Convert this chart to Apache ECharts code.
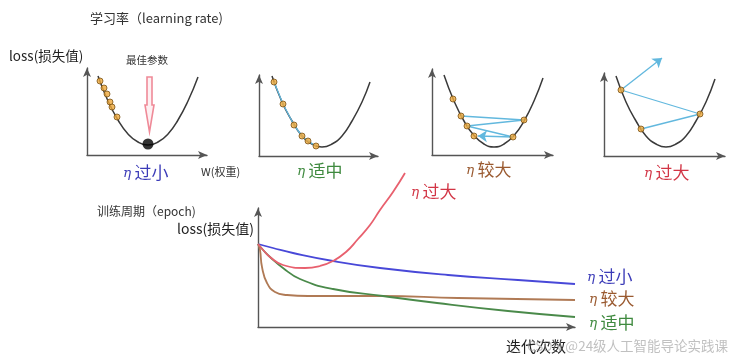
<!DOCTYPE html>
<html><head><meta charset="utf-8">
<script src="https://cdn.jsdelivr.net/npm/echarts@6/dist/echarts.min.js"></script>
<style>html,body{margin:0;padding:0;background:#fff}#c{width:737px;height:362px}</style>
</head><body><div id="c"></div>
<script>
// ---------- data (axis units) ----------
// panel 1: learning rate too small
const curveSmall = [[11,79],[21,54],[31,35],[41,21],[51,13],[61,10],[71,13],[81,21],[91,35],[101,54],[111,78]];
const stepsSmall = [[13,74],[17,67],[20,61],[23,53],[25,48],[30,38]];
const bestPoint = [[61,11]];
const bestArrow = [[60,78],[65,78],[65,50],[67,50],[62.5,23],[58,50],[60,50]];
// panel 2: good learning rate
const curveGood = [[13,80],[23,54],[33,35],[43,20],[53,12],[63,9],[73,12],[83,20],[93,35],[103,54],[111,74]];
const stepsGood = [[15,74],[24,52],[35,31],[43,20],[49,15],[57,10]];
// panel 3: large learning rate
const curveLarge = [[12,80],[22,54],[32,34],[42,19.5],[52,11],[62,8],[72,11],[82,19.5],[92,34],[102,54],[111,77]];
const stepsLarge = [[21,56],[29,39],[35,29],[42,19],[92,35],[81,18]];
const pathLarge = [[29,39],[92,35],[35,29],[81,18],[46,19]];
// panel 4: too large learning rate
const curveTooLarge = [[12,80],[22,54],[32,35],[42,20],[52,12],[62,9],[72,12],[82,20],[92,35],[102,54],[111,77]];
const stepsTooLarge = [[17,66],[96,42],[37,27]];
const pathTooLarge = [[37,27],[96,42],[17,66],[58,98]];
// bottom: loss vs epochs
const lossSmall = [[0,83],[15,79],[35,74],[75,66],[122,59],[190,52],[260,47],[317,43]];
const lossGood = [[0,83],[6,76],[12,70],[25,59],[42,48],[75,38],[125,31],[179,24],[250,16],[317,10]];
const lossLarge = [[0,83],[2,77],[4,60],[9,44],[17,35],[29,32],[50,31],[122,31],[200,29],[317,27]];
const lossTooLarge = [[0,83],[6,76],[12,70],[25,62],[47,59],[62,61],[75,66],[88,75],[100,88],[112,102],[122,117],[135,135],[147,154]];
// texts
const etaWords = ['过小','适中','较大','过大'];

const FONT = '"Noto Sans CJK SC", sans-serif';
const C = {small:'#3c3cb8', good:'#3f8a3f', large:'#9a5a30', too:'#d23545'};
const LINE = {small:'#4848d8', good:'#4a8a4a', large:'#b07a55', too:'#e8606e'};
const stepBlue = '#62b8de';

const grids = [
  {left:87, top:68, width:120, height:87},
  {left:259, top:75, width:119, height:81},
  {left:432, top:69, width:121, height:86},
  {left:604, top:73, width:121, height:83},
  {left:258, top:208, width:317, height:119}
];
const axisLine = {show:true, symbol:['none','arrow'], symbolSize:[6,9], lineStyle:{color:'#555', width:1.4}};
const xAxis = grids.map((g,i)=>({type:'value', gridIndex:i, min:0, max:g.width, axisLine, axisTick:{show:false}, axisLabel:{show:false}, splitLine:{show:false}}));
const yAxis = grids.map((g,i)=>({type:'value', gridIndex:i, min:0, max:g.height, axisLine, axisTick:{show:false}, axisLabel:{show:false}, splitLine:{show:false}}));

function curve(data, i){
  return {type:'line', xAxisIndex:i, yAxisIndex:i, data, smooth:true, showSymbol:false, silent:true,
    lineStyle:{color:'#3a3a3a', width:1.5}, z:2};
}
function dots(data, i){
  return {type:'scatter', xAxisIndex:i, yAxisIndex:i, data, symbolSize:6, silent:true,
    itemStyle:{color:'#eea83a', borderColor:'#7a5418', borderWidth:1}, z:5};
}
function segs(data){
  const out = [];
  for (let k = 0; k < data.length - 1; k++) out.push({coords:[data[k], data[k+1]]});
  return out;
}
function path(data, i, arrow){
  const s = segs(data);
  const base = {type:'lines', coordinateSystem:'cartesian2d', xAxisIndex:i, yAxisIndex:i, clip:false, silent:true,
    lineStyle:{color:stepBlue, width:1.3, opacity:1, curveness:0}, z:4};
  if (!arrow) return [Object.assign({}, base, {symbol:['none','none'], data:s})];
  return [
    Object.assign({}, base, {symbol:['none','none'], data:s.slice(0, -1)}),
    Object.assign({}, base, {symbol:['none','arrow'], symbolSize:9, data:s.slice(-1)})
  ];
}
function lossLine(data, color){
  return {type:'line', xAxisIndex:4, yAxisIndex:4, data, smooth:0.5, showSymbol:false, clip:false, silent:true,
    lineStyle:{color, width:1.8}, z:3};
}
function txt(x, y, text, size, color, extra){
  return Object.assign({type:'text', x, y, style:{text, fontSize:size, fontFamily:FONT, fill:color, textVerticalAlign:'middle', verticalAlign:'middle'}}, extra||{});
}
function eta(x, y, word, color, size){
  return {type:'text', x, y, style:{
    text:'{e|η} {t|'+word+'}', verticalAlign:'middle', textVerticalAlign:'middle',
    rich:{
      e:{fontSize:size*0.8, fontStyle:'italic', fontFamily:'"DejaVu Serif", serif', fill:color},
      t:{fontSize:size, fontFamily:FONT, fill:color}
    }}};
}

const option = {
  animation:false,
  backgroundColor:'#ffffff',
  grid: grids,
  xAxis, yAxis,
  series:[
    curve(curveSmall,0), dots(stepsSmall,0),
    {type:'scatter', xAxisIndex:0, yAxisIndex:0, data:bestPoint, symbolSize:11, itemStyle:{color:'#000'}, z:6, silent:true},
    {type:'custom', xAxisIndex:0, yAxisIndex:0, data:[0], silent:true, z:4,
      renderItem:(params, api)=>({type:'polygon', shape:{points:bestArrow.map(p=>api.coord(p))},
        style:{fill:'#fdf0f2', stroke:'#ef8a98', lineWidth:1.6}})},
    curve(curveGood,1), ...path(stepsGood,1,false), dots(stepsGood,1),
    curve(curveLarge,2), ...path(pathLarge,2,true), dots(stepsLarge,2),
    curve(curveTooLarge,3), ...path(pathTooLarge,3,true), dots(stepsTooLarge,3),
    lossLine(lossSmall, LINE.small),
    lossLine(lossLarge, LINE.large),
    lossLine(lossGood, LINE.good),
    lossLine(lossTooLarge, LINE.too)
  ],
  graphic:[
    txt(90, 18, '学习率（learning rate)', 13, '#333'),
    txt(9, 56, 'loss(损失值)', 13.5, '#222'),
    txt(126, 60, '最佳参数', 10.5, '#333'),
    txt(201, 172, 'W(权重)', 11, '#333'),
    eta(123, 173, etaWords[0], C.small, 17),
    eta(297, 171, etaWords[1], C.good, 17),
    eta(466, 170, etaWords[2], C.large, 17),
    eta(644, 173, etaWords[3], C.too, 17),
    txt(97, 211, '训练周期（epoch)', 12, '#333'),
    txt(177, 229, 'loss(损失值)', 14, '#222'),
    eta(411, 192, etaWords[3], C.too, 17),
    eta(587, 277, etaWords[0], C.small, 17),
    eta(589, 299, etaWords[2], C.large, 17),
    eta(589, 323, etaWords[1], C.good, 17),
    txt(506, 346, '迭代次数', 15, '#222'),
    txt(527, 346, 'CSDN @24级人工智能导论实践课', 13.5, 'rgba(140,140,140,0.55)')
  ]
};
const chart = echarts.init(document.getElementById('c'), null, {renderer:'canvas'});
chart.setOption(option);
</script>
</body></html>
